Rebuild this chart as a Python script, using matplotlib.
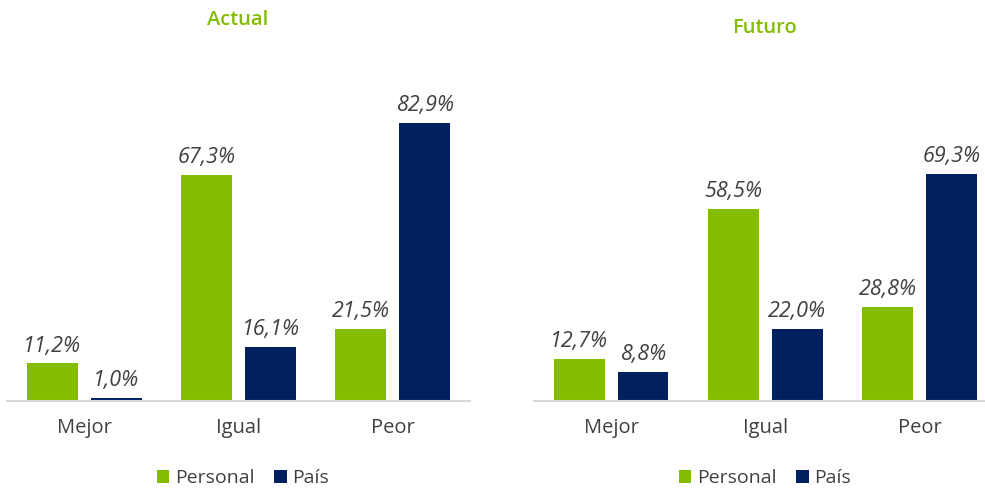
import numpy as np
import matplotlib.pyplot as plt

# Datos
categorias = ['Mejor', 'Igual', 'Peor']
actual_personal = [11.2, 67.3, 21.5]
actual_pais = [1.0, 16.1, 82.9]
futuro_personal = [12.7, 58.5, 28.8]
futuro_pais = [8.8, 22.0, 69.3]
series = ['Personal', 'País']

verde = '#84bd00'
azul = '#002060'
gris = '#404040'

plt.rcParams['font.family'] = ['Open Sans', 'DejaVu Sans']

fig = plt.figure(figsize=(9.85, 4.91), dpi=100)

W, H = 985, 491


def panel(rect_px, xmax, ymax, personal, pais):
    x0, x1, ytop, ybot = rect_px
    ax = fig.add_axes([x0 / W, 1 - ybot / H, (x1 - x0) / W, (ybot - ytop) / H])
    x = np.arange(len(categorias))
    w = 0.33
    off = 0.207
    b1 = ax.bar(x - off, personal, w, color=verde, label=series[0])
    b2 = ax.bar(x + off, pais, w, color=azul, label=series[1])
    for barras, vals in [(b1, personal), (b2, pais)]:
        for b, v in zip(barras, vals):
            ax.annotate(f'{v:.1f}%'.replace('.', ','),
                        (b.get_x() + b.get_width() / 2, b.get_height()),
                        xytext=(0, 5), textcoords='offset points',
                        ha='center', va='bottom', fontsize=15.5,
                        style='italic', color=gris)
    ax.set_xlim(-0.5, xmax)
    ax.set_ylim(0, ymax)
    ax.set_xticks(x)
    ax.set_xticklabels(categorias, fontsize=14.5, color=gris)
    ax.tick_params(axis='x', length=0, pad=12)
    ax.set_yticks([])
    for s in ['top', 'left', 'right']:
        ax.spines[s].set_visible(False)
    ax.spines['bottom'].set_color('#d9d9d9')
    ax.spines['bottom'].set_linewidth(1.5)
    return ax


ax1 = panel((7, 470, 40, 401), 2.5, (401 - 40) / 3.353, actual_personal, actual_pais)
ax2 = panel((534, 985, 40, 401), 2.424, (401 - 40) / 3.276, futuro_personal, futuro_pais)

fig.text(238 / W, 1 - 20 / H, 'Actual', ha='center', va='center',
         fontsize=14.5, color=verde, weight='semibold')
fig.text(765 / W, 1 - 28 / H, 'Futuro', ha='center', va='center',
         fontsize=14.5, color=verde, weight='semibold')

for ax, cx in [(ax1, 243), (ax2, 765)]:
    ax.legend(loc='center', bbox_to_anchor=(cx / W, 1 - 478 / H),
              bbox_transform=fig.transFigure, ncol=2, frameon=False,
              fontsize=14, handlelength=0.65, handleheight=0.65,
              handletextpad=0.3, columnspacing=1.0, labelcolor=gris)

fig.savefig('out.png', dpi=100)
